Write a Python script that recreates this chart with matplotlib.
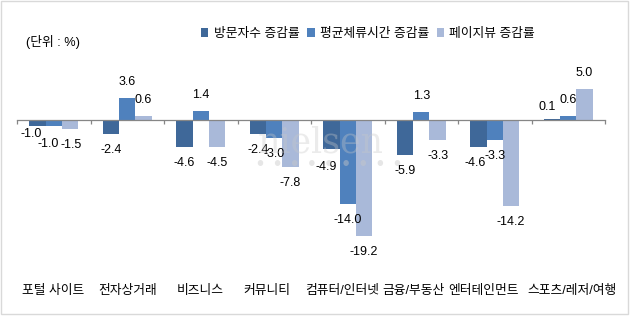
import matplotlib.pyplot as plt
from matplotlib.patches import Rectangle
from matplotlib.transforms import blended_transform_factory
import numpy as np

plt.rcParams['font.family'] = ['Liberation Sans', 'Noto Sans CJK KR', 'DejaVu Sans']

categories = ['포털 사이트', '전자상거래', '비즈니스', '커뮤니티',
              '컴퓨터/인터넷', '금융/부동산', '엔터테인먼트', '스포츠/레저/여행']
series_names = ['방문자수 증감률', '평균체류시간 증감률', '페이지뷰 증감률']
visitors = [-1.0, -2.4, -4.6, -2.4, -4.9, -5.9, -4.6, 0.1]
stay_time = [-1.0, 3.6, 1.4, -3.0, -14.0, 1.3, -3.3, 0.6]
page_views = [-1.5, 0.6, -4.5, -7.8, -19.2, -3.3, -14.2, 5.0]

colors = ['#3F6899', '#4F81BD', '#A9B9D9']
# label nudges in pixels (series, category) -> (dx, dy), to mimic excel overlap handling
nudges = {(0, 0): (-6, 7.5), (1, 0): (-6, -2.5), (2, 0): (1, 0),
          (0, 4): (-5.5, -2), (0, 6): (-3.5, 0), (0, 7): (-5, -4)}
# category label shifts in pixels (excel pushes crowded labels apart)
cat_shift = [-1, 0, -1, -7, -6, -8, -11, 4]

W, H = 630, 322
fig = plt.figure(figsize=(W / 100, H / 100), dpi=100)
# y range chosen so that zero sits ~119px from top at ~6.07 px per unit
ymin, ymax = -22, 8
top_px, bot_px = 119.5 - ymax * 6.07, 119.5 - ymin * 6.07
ax = fig.add_axes([17 / W, 1 - bot_px / H, 588 / W, (bot_px - top_px) / H])

x = np.arange(len(categories))
width = 0.222
all_series = [visitors, stay_time, page_views]
for s, (vals, name, col) in enumerate(zip(all_series, series_names, colors)):
    pos = x + (s - 1) * width
    ax.bar(pos, vals, width, color=col, label=name, zorder=2)
    for c, (px, v) in enumerate(zip(pos, vals)):
        dx, dy = nudges.get((s, c), (0, 0))
        off = 16 if v >= 0 else -16
        ax.annotate(f'{v:.1f}', xy=(px, v), xytext=(dx, off + dy),
                    textcoords='offset pixels', ha='center', va='center',
                    fontsize=9, color='#000000', zorder=4)

ax.set_xlim(-0.5, len(categories) - 0.5)
ax.set_ylim(ymin, ymax)
for sp in ['top', 'right', 'left']:
    ax.spines[sp].set_visible(False)
ax.spines['bottom'].set_position(('data', 0))
ax.spines['bottom'].set_color('#868686')
ax.spines['bottom'].set_linewidth(0.9)
ax.spines['bottom'].set_zorder(3)
ax.set_yticks([])
ax.set_xticks(np.arange(-0.5, len(categories)))
ax.set_xticklabels([])
ax.tick_params(axis='x', direction='out', length=3, width=0.9, color='#868686')
ax.patch.set_alpha(0)

trans = blended_transform_factory(ax.transData, fig.transFigure)
for i, cat in enumerate(categories):
    ax.annotate(cat, xy=(i, 1 - 291 / H), xycoords=trans,
                xytext=(cat_shift[i], 0), textcoords='offset pixels',
                ha='center', va='center', fontsize=9.2, color='#000000')

fig.text(26 / W, 1 - 42 / H, '(단위 : %)', ha='left', va='center', fontsize=9.2)

fig.legend(loc='center', bbox_to_anchor=(368 / W, 1 - 34 / H), ncol=3,
           frameon=False, fontsize=9.2, handlelength=0.6, handleheight=0.6,
           handletextpad=0.4, columnspacing=0.6, borderaxespad=0)

# faint watermark
fig.text(258 / W, 1 - 153 / H, 'nielsen', family='DejaVu Serif', fontsize=25,
         color='#C8C8C8', alpha=0.35, ha='left', va='baseline', zorder=5)
fig.text(255 / W, 1 - 164 / H, '• ' * 9, family='DejaVu Sans', fontsize=13.5,
         color='#C8C8C8', alpha=0.45, ha='left', va='center', zorder=5)

fig.patches.append(Rectangle((0.5 / W, 1 - 313.5 / H), 627 / W, 313 / H,
                             transform=fig.transFigure, fill=False,
                             edgecolor='#D9D9D9', linewidth=1))

fig.savefig('out.png', dpi=100)
